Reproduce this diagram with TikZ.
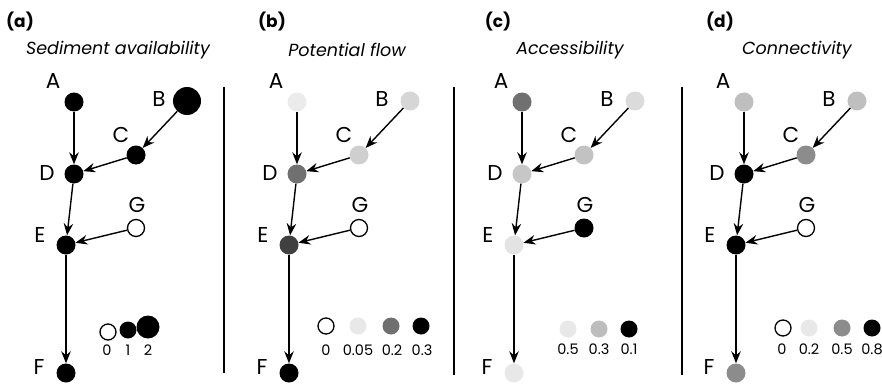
\documentclass[tikz,border=0pt]{standalone}
\usepackage{fontspec}
\setmainfont{Poppins}
\usetikzlibrary{arrows.meta}
\begin{document}
\begin{tikzpicture}[x=1pt,y=-1pt,
  dot/.style={circle, inner sep=0pt, minimum size=19pt, fill=#1},
  opendot/.style={circle, inner sep=0pt, minimum size=17pt, draw=black, line width=1.3pt, fill=white},
  lab/.style={inner sep=0pt, font=\fontsize{21.5}{22}\selectfont},
  leglab/.style={inner sep=0pt, font=\fontsize{14.5}{15}\selectfont},
  ttl/.style={inner sep=0pt, font=\fontsize{17.5}{18}\selectfont\itshape},
  tag/.style={inner sep=0pt, font=\fontsize{17}{17}\selectfont\bfseries},
  arr/.style={-{Stealth[length=12pt,width=9.5pt,inset=4pt]}, line width=1.4pt},
  divider/.style={line width=1.4pt},
  aA/.style={dot=black}, aB/.style={dot=black, minimum size=28pt}, aC/.style={dot=black},
  aD/.style={dot=black}, aE/.style={dot=black}, aF/.style={dot=black}, aG/.style={opendot},
  bA/.style={dot={black!8}}, bB/.style={dot={black!16}}, bC/.style={dot={black!19}},
  bD/.style={dot={black!56}}, bE/.style={dot={black!75}}, bF/.style={dot=black}, bG/.style={opendot},
  cA/.style={dot={black!56}}, cB/.style={dot={black!14}}, cC/.style={dot={black!24}},
  cD/.style={dot={black!22}}, cE/.style={dot={black!11}}, cF/.style={dot={black!9}}, cG/.style={dot=black},
  dA/.style={dot={black!25}}, dB/.style={dot={black!25}}, dC/.style={dot={black!45}},
  dD/.style={dot=black}, dE/.style={dot=black}, dF/.style={dot={black!45}}, dG/.style={opendot},
]
\useasboundingbox (0,0) rectangle (882,385);
\newcommand\drawpanel[2]{%
\begin{scope}[xshift=#2pt]
  \node[#1A] (#1A) at (74,102) {};
  \node[#1B] (#1B) at (187,101) {};
  \node[#1C] (#1C) at (136,155) {};
  \node[#1D] (#1D) at (74,174) {};
  \node[#1E] (#1E) at (66,245) {};
  \node[#1G] (#1G) at (136,228) {};
  \node[#1F] (#1F) at (66,373) {};
  \node[lab] (#1Al) at (53,81) {A};
  \node[lab] (#1Bl) at (159,99) {B};
  \node[lab] (#1Cl) at (121,135) {C};
  \node[lab] (#1Dl) at (47,173) {D};
  \node[lab] (#1El) at (40,235) {E};
  \node[lab] (#1Gl) at (137,205) {G};
  \node[lab] (#1Fl) at (39,367) {F};
  \draw[arr] (#1A) -- (#1D);
  \draw[arr] (#1B) -- (#1C);
  \draw[arr] (#1C) -- (#1D);
  \draw[arr] (#1D) -- (#1E);
  \draw[arr] (#1G) -- (#1E);
  \draw[arr] (#1E) -- (#1F);
\end{scope}}
\drawpanel{a}{0}
\drawpanel{b}{223}
\drawpanel{c}{448}
\drawpanel{d}{670}
% tags and titles
\node[tag] (ta) at (20,22) {(a)};
\node[tag] (tb) at (272,22) {(b)};
\node[tag] (tc) at (498,22) {(c)};
\node[tag] (td) at (720,22) {(d)};
\node[ttl] (sa) at (118,50) {Sediment availability};
\node[ttl] (sb) at (347,50) {Potential flow};
\node[ttl] (sc) at (570,50) {Accessibility};
\node[ttl] (sd) at (797,50) {Connectivity};
% dividers
\coordinate (v1t) at (224,87); \coordinate (v1b) at (224,373);
\coordinate (v2t) at (454,87); \coordinate (v2b) at (454,375);
\coordinate (v3t) at (682,87); \coordinate (v3b) at (682,375);
\draw[divider] (v1t) -- (v1b);
\draw[divider] (v2t) -- (v2b);
\draw[divider] (v3t) -- (v3b);
% legend a
\node[opendot, minimum size=16pt] (la0) at (108,332) {};
\node[dot=black, minimum size=17pt] (la1) at (128,330) {};
\node[dot=black, minimum size=23pt] (la2) at (148,327) {};
\node[leglab] (la0t) at (107,350) {0};
\node[leglab] (la1t) at (128,350) {1};
\node[leglab] (la2t) at (148,350) {2};
% legend b
\node[opendot, minimum size=16pt] (lb0) at (326,326) {};
\node[dot={black!9}, minimum size=17pt] (lb1) at (358,326) {};
\node[dot={black!56}, minimum size=17pt] (lb2) at (391,326) {};
\node[dot=black, minimum size=17pt] (lb3) at (421,326) {};
\node[leglab] (lb0t) at (326,350) {0};
\node[leglab] (lb1t) at (358,350) {0.05};
\node[leglab] (lb2t) at (392,350) {0.2};
\node[leglab] (lb3t) at (422,350) {0.3};
% legend c
\node[dot={black!9}, minimum size=17pt] (lc0) at (568,329) {};
\node[dot={black!26}, minimum size=17pt] (lc1) at (599,329) {};
\node[dot=black, minimum size=17pt] (lc2) at (629,329) {};
\node[leglab] (lc0t) at (568,349) {0.5};
\node[leglab] (lc1t) at (599,349) {0.3};
\node[leglab] (lc2t) at (629,349) {0.1};
% legend d
\node[opendot, minimum size=16pt] (ld0) at (783,328) {};
\node[dot={black!9}, minimum size=17pt] (ld1) at (809,328) {};
\node[dot={black!45}, minimum size=17pt] (ld2) at (842,328) {};
\node[dot=black, minimum size=17pt] (ld3) at (872,328) {};
\node[leglab] (ld0t) at (782,349) {0};
\node[leglab] (ld1t) at (809,349) {0.2};
\node[leglab] (ld2t) at (842,349) {0.5};
\node[leglab] (ld3t) at (872,349) {0.8};
\end{tikzpicture}
\end{document}
